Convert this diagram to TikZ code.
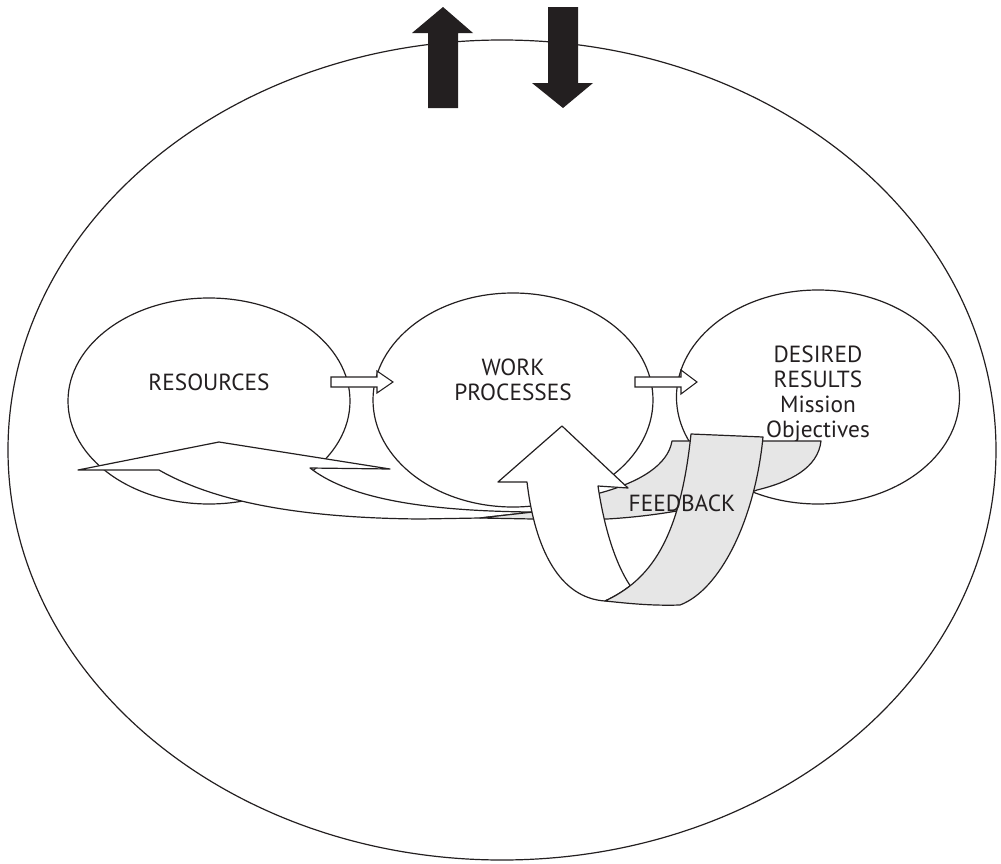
\documentclass[tikz,border=0pt]{standalone}
\usepackage{fontspec}
\setmainfont{PT Sans}
\usetikzlibrary{shapes.geometric}
\definecolor{ink}{RGB}{35,31,32}
\definecolor{shade}{RGB}{230,230,230}
\begin{document}
\begin{tikzpicture}[x=0.75pt,y=-0.75pt,
  line width=0.9pt, draw=ink, text=ink,
  bubble/.style={draw=ink, ellipse, inner sep=0pt},
  caption/.style={align=center, inner sep=0pt,
    font=\fontsize{17.5}{18.6}\selectfont},
  ribbon/.style={draw=ink, fill=white, line join=round},
  backside/.style={draw=ink, fill=shade, line join=round},
  hollowarrow/.style={draw=ink, fill=white, line width=0.8pt, line join=miter},
  solidarrow/.style={fill=ink, draw=none}]
\useasboundingbox (0,0) rectangle (1001,864);

% environment and the three stages
\node[bubble, minimum width=741pt, minimum height=615pt] (env) at (502,450) {};
\node[bubble, minimum width=211.5pt, minimum height=154.5pt] (resources) at (209,401) {};
\node[bubble, minimum width=210pt, minimum height=160.5pt] (work) at (513,400) {};
\node[bubble, minimum width=212.3pt, minimum height=160.5pt] (results) at (818,397) {};

\node[caption] (resT) at (209,382) {RESOURCES};
\node[caption] (workT) at (513,380) {WORK\\PROCESSES};
\node[caption] (resultsT) at (818,394) {DESIRED\\RESULTS\\Mission\\Objectives};

% flow arrows between the stages
\draw[hollowarrow] (331,377) -- (377,377) -- (377,371) -- (393,382)
  -- (377,393) -- (377,387) -- (331,387) -- cycle;
\draw[hollowarrow] (635,377) -- (681,377) -- (681,370) -- (697,382)
  -- (681,394) -- (681,387) -- (635,387) -- cycle;

% feedback ribbon returning to the resources
\draw[ribbon] (78,470) -- (219,442) -- (390,469) -- (310,468)
  .. controls (345,495) and (410,511) .. (533,512)
  -- (480,518) -- (420,519)
  .. controls (300,518) and (215,502) .. (159,470) -- cycle;
\draw[backside] (480,518) -- (533,512)
  .. controls (560,505) and (585,497) .. (600,493)
  .. controls (640,482) and (668,465) .. (672,441)
  -- (821,441)
  .. controls (818,468) and (790,482) .. (757,490)
  .. controls (720,505) and (660,516) .. (607,519)
  -- (533,519) -- cycle;

% feedback loop rising into the work processes
\draw[ribbon] (562,426) -- (628,488) -- (598,486)
  .. controls (603,520) and (613,560) .. (630.2,585.7)
  .. controls (622.4,591.8) and (614,596.8) .. (605,601)
  .. controls (560,598) and (535,550) .. (527,482)
  -- (498,482) -- cycle;
\draw[backside] (691,434) -- (763,437)
  .. controls (755,520) and (720,590) .. (680,605)
  .. controls (650,606) and (625,603) .. (605,601)
  .. controls (650,580) and (680,540) .. (691,434) -- cycle;

\node[caption] (fbT) at (682,503) {FEEDBACK};

% exchange with the outside
\fill[solidarrow] (428,108) -- (428,33) -- (412,33) -- (443,7) -- (473,33)
  -- (458,33) -- (458,108) -- cycle;
\fill[solidarrow] (548,7) -- (578,7) -- (578,83) -- (593,83) -- (563,108)
  -- (532,83) -- (548,83) -- cycle;
\end{tikzpicture}
\end{document}
